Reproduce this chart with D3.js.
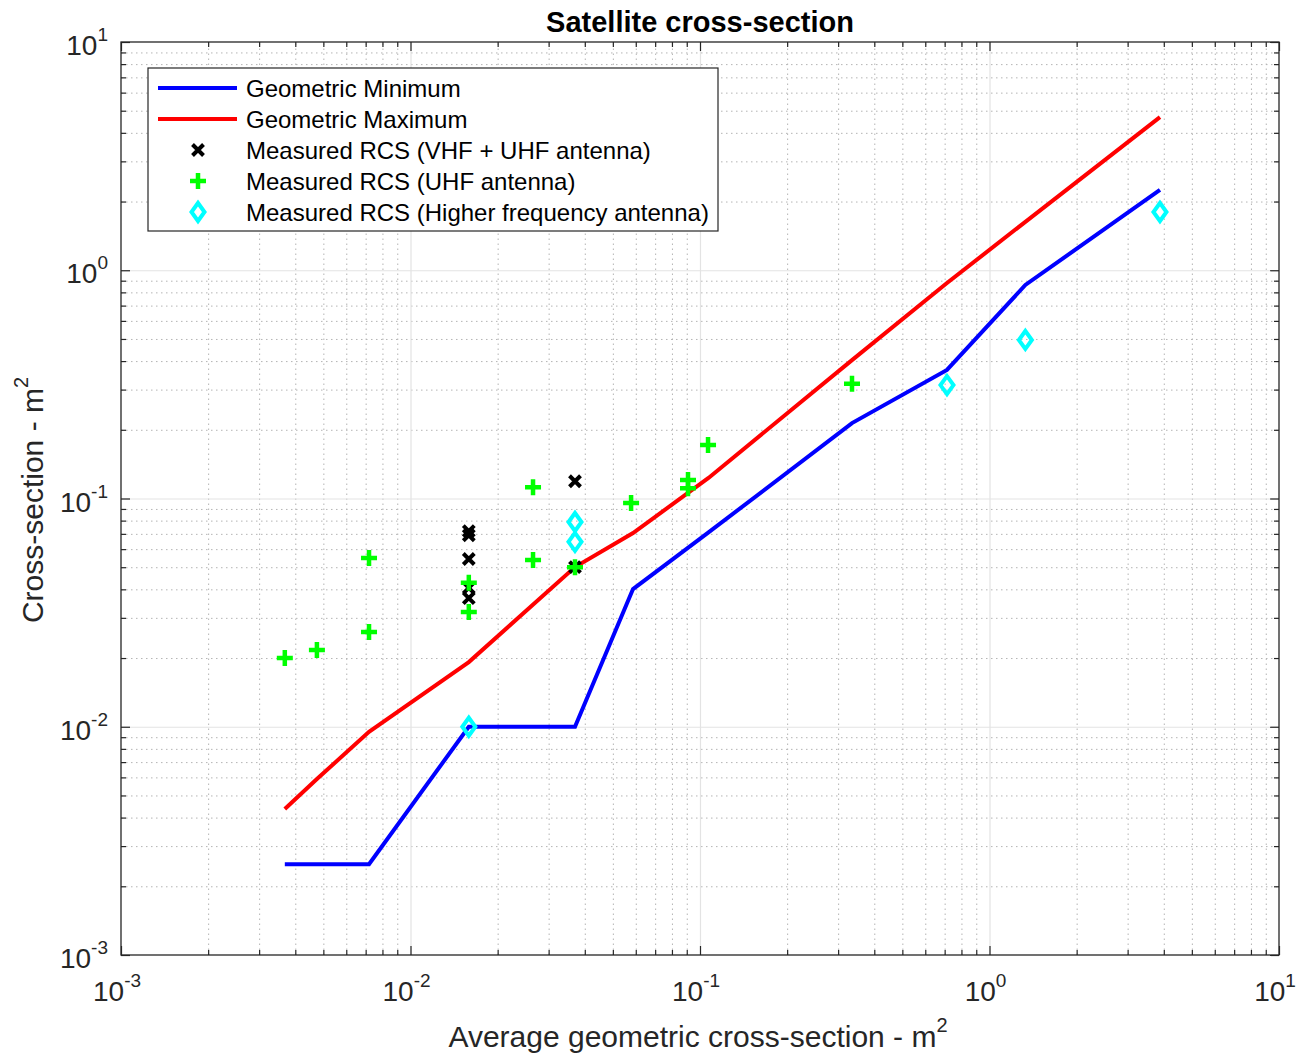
<!DOCTYPE html>
<html>
<head>
<meta charset="utf-8">
<script src="https://cdn.jsdelivr.net/npm/d3@7"></script>
<style>
  body { margin: 0; background: #fff; }
  svg { font-family: "Liberation Sans", Arial, Helvetica, sans-serif; }
  .grid line { stroke: #b4b4b4; stroke-width: 1; stroke-dasharray: 1.5,3.5; }
  .grid path, .ticks path { display: none; }
  .majorgrid line { stroke: #e3e3e3; stroke-width: 1.2; }
  .majorgrid path { display: none; }
  .ticks line { stroke: #262626; stroke-width: 1.2; }
  .lbl { font-size: 28px; fill: #262626; }
  .axlbl { font-size: 30px; fill: #262626; }
</style>
</head>
<body>
<svg id="chart" width="1301" height="1057"></svg>
<script>
// geometric bounds, shared x values
const geomX = [0.00368, 0.00475, 0.00719, 0.0159, 0.037, 0.0587, 0.107, 0.335, 0.713, 1.33, 3.88]
const geomMin = [0.0025, 0.0025, 0.0025, 0.01, 0.01, 0.0401, 0.071, 0.214, 0.366, 0.862, 2.25]
const geomMax = [0.00436, 0.0059, 0.0095, 0.0192, 0.0501, 0.0706, 0.123, 0.404, 0.879, 1.63, 4.69]

// measured RCS, VHF + UHF antenna
const vhfX = [0.0159, 0.0159, 0.0159, 0.0159, 0.0159, 0.037, 0.037]
const vhfY = [0.072, 0.069, 0.0543, 0.0406, 0.0366, 0.119, 0.050]

// measured RCS, UHF antenna
const uhfX = [0.00368, 0.00475, 0.00719, 0.00719, 0.0159, 0.0159, 0.0265, 0.0265, 0.037, 0.0578, 0.0909, 0.0909, 0.1066, 0.335]
const uhfY = [0.020, 0.0217, 0.026, 0.0548, 0.0427, 0.0318, 0.112, 0.0538, 0.050, 0.0955, 0.1205, 0.111, 0.1715, 0.318]

// measured RCS, higher frequency antenna
const hfX = [0.0159, 0.037, 0.037, 0.713, 1.33, 3.88]
const hfY = [0.01, 0.0789, 0.0646, 0.314, 0.495, 1.80]

const decades = [1e-3, 1e-2, 1e-1, 1, 10]
const decadeExp = ['-3', '-2', '-1', '0', '1']

const legendNames = [
    'Geometric Minimum',
    'Geometric Maximum',
    'Measured RCS (VHF + UHF antenna)',
    'Measured RCS (UHF antenna)',
    'Measured RCS (Higher frequency antenna)'
]

const svg = d3.select('#chart')
const mLeft = 121, mRight = 1279, mTop = 42, mBottom = 955
const width = mRight - mLeft, height = mBottom - mTop

const x = d3.scaleLog().domain([1e-3, 10]).range([mLeft, mRight])
const y = d3.scaleLog().domain([1e-3, 10]).range([mBottom, mTop])

let minors = []
decades.slice(0, -1).forEach(d => {
    for (let k = 2; k <= 9; k++) minors.push(d * k)
})

// minor grid
svg.append('g').attr('class', 'grid')
    .attr('transform', `translate(0, ${mBottom})`)
    .call(d3.axisBottom(x).tickValues(minors).tickSize(-height).tickFormat(''))
svg.append('g').attr('class', 'grid')
    .attr('transform', `translate(${mLeft}, 0)`)
    .call(d3.axisLeft(y).tickValues(minors).tickSize(-width).tickFormat(''))

// major grid
svg.append('g').attr('class', 'majorgrid')
    .attr('transform', `translate(0, ${mBottom})`)
    .call(d3.axisBottom(x).tickValues(decades.slice(1, -1)).tickSize(-height).tickFormat(''))
svg.append('g').attr('class', 'majorgrid')
    .attr('transform', `translate(${mLeft}, 0)`)
    .call(d3.axisLeft(y).tickValues(decades.slice(1, -1)).tickSize(-width).tickFormat(''))

// ticks on all four sides, pointing in
const addTicks = (vals, len) => {
    svg.append('g').attr('class', 'ticks').attr('transform', `translate(0, ${mBottom})`)
        .call(d3.axisBottom(x).tickValues(vals).tickSize(-len).tickFormat(''))
    svg.append('g').attr('class', 'ticks').attr('transform', `translate(0, ${mTop})`)
        .call(d3.axisTop(x).tickValues(vals).tickSize(-len).tickFormat(''))
    svg.append('g').attr('class', 'ticks').attr('transform', `translate(${mLeft}, 0)`)
        .call(d3.axisLeft(y).tickValues(vals).tickSize(-len).tickFormat(''))
    svg.append('g').attr('class', 'ticks').attr('transform', `translate(${mRight}, 0)`)
        .call(d3.axisRight(y).tickValues(vals).tickSize(-len).tickFormat(''))
}
addTicks(minors, 5)
addTicks(decades, 9)

svg.append('rect')
    .attr('x', mLeft).attr('y', mTop)
    .attr('width', width).attr('height', height)
    .attr('fill', 'none').attr('stroke', '#262626').attr('stroke-width', 1.3)

// tick labels 10^n
decades.forEach((d, i) => {
    let t = svg.append('text').attr('class', 'lbl')
        .attr('x', x(d) - 4).attr('y', 1001).attr('text-anchor', 'middle')
    t.append('tspan').text('10')
    t.append('tspan').attr('dy', -14).style('font-size', '19px').text(decadeExp[i])

    let ty = svg.append('text').attr('class', 'lbl')
        .attr('x', 108).attr('y', y(d) + 13).attr('text-anchor', 'end')
    ty.append('tspan').text('10')
    ty.append('tspan').attr('dy', -14).style('font-size', '19px').text(decadeExp[i])
})

// lines
const line = d3.line().x(d => x(d[0])).y(d => y(d[1]))
svg.append('path').datum(geomX.map((v, i) => [v, geomMin[i]]))
    .attr('d', line).attr('fill', 'none').attr('stroke', '#0000ff').attr('stroke-width', 4)
svg.append('path').datum(geomX.map((v, i) => [v, geomMax[i]]))
    .attr('d', line).attr('fill', 'none').attr('stroke', '#ff0000').attr('stroke-width', 4)

// markers
const crossPath = 'M-5.5,-5.5L5.5,5.5M-5.5,5.5L5.5,-5.5'
const plusPath = 'M-8,0L8,0M0,-8L0,8'
const diamondPath = 'M0,-9L6.5,0L0,9L-6.5,0Z'

const drawMarkers = (xs, ys, p, color, sw) => {
    svg.append('g').selectAll('path')
        .data(xs.map((v, i) => [v, ys[i]]))
        .enter()
        .append('path')
        .attr('transform', d => `translate(${x(d[0])}, ${y(d[1])})`)
        .attr('d', p)
        .attr('fill', 'none')
        .attr('stroke', color)
        .attr('stroke-width', sw)
}
drawMarkers(vhfX, vhfY, crossPath, '#000000', 4)
drawMarkers(uhfX, uhfY, plusPath, '#00ff00', 4.5)
drawMarkers(hfX, hfY, diamondPath, '#00ffff', 4)

// legend
const lg = svg.append('g')
lg.append('rect').attr('x', 148).attr('y', 68).attr('width', 570).attr('height', 163)
    .attr('fill', '#fff').attr('stroke', '#262626').attr('stroke-width', 1.2)
const legendY = [88, 119, 150, 181, 212]
legendNames.forEach((name, i) => {
    let ly = legendY[i]
    if (i == 0 || i == 1) {
        lg.append('line').attr('x1', 158).attr('x2', 237).attr('y1', ly).attr('y2', ly)
            .attr('stroke', i == 0 ? '#0000ff' : '#ff0000').attr('stroke-width', 4)
    } else {
        let p = [crossPath, plusPath, diamondPath][i - 2]
        let c = ['#000000', '#00ff00', '#00ffff'][i - 2]
        lg.append('path').attr('transform', `translate(198, ${ly})`).attr('d', p)
            .attr('fill', 'none').attr('stroke', c).attr('stroke-width', [4, 4.5, 4][i - 2])
    }
    lg.append('text').attr('x', 246).attr('y', ly + 8.5)
        .style('font-size', '24px').attr('fill', '#000').text(name)
})

// titles
svg.append('text')
    .attr('x', 700).attr('y', 32)
    .attr('text-anchor', 'middle')
    .style('font-size', '29px').style('font-weight', 'bold')
    .text('Satellite cross-section')

let xl = svg.append('text').attr('class', 'axlbl')
    .attr('x', 698).attr('y', 1047).attr('text-anchor', 'middle')
xl.append('tspan').text('Average geometric cross-section - m')
xl.append('tspan').attr('dy', -15).style('font-size', '20px').text('2')

let yl = svg.append('text').attr('class', 'axlbl')
    .attr('transform', 'translate(43, 500) rotate(-90)').attr('text-anchor', 'middle')
yl.append('tspan').text('Cross-section - m')
yl.append('tspan').attr('dy', -15).style('font-size', '20px').text('2')
</script>
</body>
</html>
